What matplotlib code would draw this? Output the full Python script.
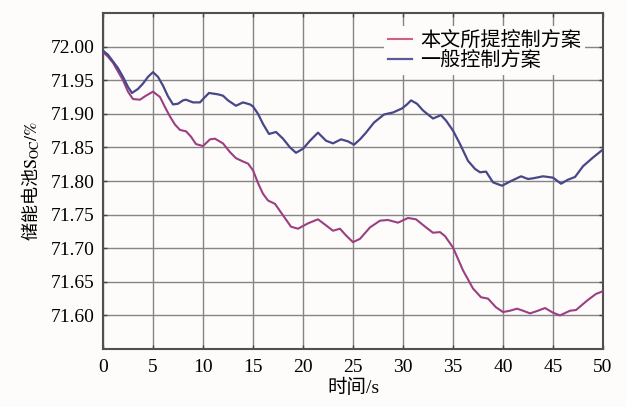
import matplotlib
matplotlib.use("Agg")
import matplotlib.pyplot as plt

plt.rcParams["mathtext.fontset"] = "stix"

# time (s) and state of charge (%) for the proposed control scheme
t_prop = [0, 0.5, 1, 1.5, 2, 2.5, 3, 3.7, 4.3, 5, 5.7, 6.2, 6.7, 7.2, 7.7,
          8.3, 8.8, 9.3, 10, 10.7, 11.2, 12, 12.7, 13.3, 14, 14.5, 15, 15.5,
          16, 16.5, 17.2, 18, 18.8, 19.5, 20.5, 21.5, 22.3, 23, 23.7, 24.3,
          25, 25.7, 26.7, 27.7, 28.5, 29.5, 30.5, 31.3, 32.3, 33, 33.7, 34.2,
          35, 36, 37, 37.8, 38.5, 39.3, 40, 40.7, 41.4, 42, 42.7, 43.5, 44.2,
          45, 45.7, 46.7, 47.3, 48.4, 49.3, 50]
soc_prop = [71.992, 71.985, 71.976, 71.963, 71.950, 71.933, 71.922, 71.921,
            71.927, 71.933, 71.925, 71.910, 71.896, 71.884, 71.876, 71.874,
            71.866, 71.855, 71.852, 71.862, 71.863, 71.856, 71.843, 71.834,
            71.829, 71.826, 71.816, 71.797, 71.781, 71.771, 71.766, 71.749,
            71.732, 71.729, 71.737, 71.743, 71.734, 71.726, 71.729, 71.719,
            71.709, 71.714, 71.731, 71.741, 71.742, 71.738, 71.745, 71.743,
            71.731, 71.723, 71.724, 71.718, 71.701, 71.667, 71.640, 71.627,
            71.625, 71.612, 71.605, 71.607, 71.610, 71.607, 71.603, 71.607,
            71.611, 71.604, 71.600, 71.607, 71.608, 71.622, 71.632, 71.636]

# time (s) and state of charge (%) for the ordinary control scheme
t_base = [0, 0.5, 1, 1.5, 2, 2.5, 2.9, 3.5, 4, 4.5, 5, 5.5, 6, 6.5, 7, 7.5,
          8, 8.3, 9, 9.7, 10.2, 10.6, 11.5, 12, 12.5, 13.3, 14, 14.7, 15,
          15.5, 16, 16.6, 17.3, 18, 18.7, 19.3, 20, 20.7, 21.5, 22.3, 23,
          23.8, 24.5, 25.1, 25.7, 26.3, 27.1, 28.1, 29, 29.9, 30.4, 30.8,
          31.4, 32, 33, 33.8, 34.3, 35, 35.7, 36.5, 37.2, 37.7, 38.3, 39,
          39.9, 40.8, 41.8, 42.5, 43, 44, 45, 45.8, 46.5, 47.2, 48, 49, 50]
soc_base = [71.994, 71.988, 71.978, 71.968, 71.955, 71.940, 71.931, 71.937,
            71.945, 71.955, 71.962, 71.955, 71.942, 71.926, 71.914, 71.915,
            71.920, 71.921, 71.917, 71.917, 71.925, 71.931, 71.929, 71.927,
            71.920, 71.912, 71.917, 71.914, 71.911, 71.900, 71.885, 71.870,
            71.873, 71.863, 71.850, 71.842, 71.848, 71.860, 71.872, 71.860,
            71.856, 71.862, 71.859, 71.854, 71.862, 71.872, 71.887, 71.899,
            71.902, 71.908, 71.914, 71.920, 71.915, 71.905, 71.893, 71.898,
            71.890, 71.875, 71.855, 71.830, 71.818, 71.813, 71.814, 71.798,
            71.793, 71.800, 71.807, 71.803, 71.804, 71.807, 71.805, 71.796,
            71.802, 71.806, 71.822, 71.835, 71.847]

labels = ["本文所提控制方案", "一般控制方案"]
x_ticks = [0, 5, 10, 15, 20, 25, 30, 35, 40, 45, 50]
y_ticks = [71.60, 71.65, 71.70, 71.75, 71.80, 71.85, 71.90, 71.95, 72.00]

serif = ["Liberation Serif", "Noto Sans CJK SC"]
cjk = "Noto Sans CJK SC"

fig = plt.figure(figsize=(6.26, 4.07), dpi=100, facecolor="#fdfcfa")
ax = fig.add_axes([0.1645, 0.1425, 0.7988, 0.8255])
ax.set_facecolor("#fdfcfa")

ax.plot(t_prop, soc_prop, color="#9c3f82", lw=1.5, label=labels[0], zorder=3)
ax.plot(t_base, soc_base, color="#47478a", lw=1.6, label=labels[1], zorder=3)

ax.set_xlim(0, 50)
ax.set_ylim(71.55, 72.05)
ax.set_xticks(x_ticks)
ax.set_yticks(y_ticks)
ax.set_xticklabels([str(v) for v in x_ticks], family=serif, fontsize=14)
ax.set_yticklabels([f"{v:.2f}" for v in y_ticks], family=serif, fontsize=14)
ax.tick_params(direction="in", length=3, width=1, color="#444444",
               top=True, right=True, pad=6)
ax.tick_params(axis="x", pad=7)
ax.grid(True, color="#858585", lw=1.0)
for sp in ax.spines.values():
    sp.set_color("#505050")
    sp.set_linewidth(1.5)

ax.set_xlabel("时间/s", family=serif, fontsize=14, labelpad=2)
ax.set_ylabel(r"储能电池$\mathrm{S}_{\mathrm{OC}}\mathrm{/\%}$", family=cjk,
              fontsize=13, labelpad=6)

leg = ax.legend(loc="upper left", bbox_to_anchor=(0.541, 0.992),
                prop={"family": cjk, "size": 14.5}, frameon=True,
                handlelength=1.2, handletextpad=0.4, labelspacing=-0.05,
                borderpad=0.2, fancybox=False)
leg.get_frame().set_facecolor("#fdfcfa")
leg.get_frame().set_edgecolor("none")
leg.get_frame().set_alpha(1)
leg.get_lines()[0].set_color("#d0607e")
leg.get_lines()[1].set_color("#5a5a9a")

fig.savefig("out.png", dpi=100, facecolor=fig.get_facecolor())
